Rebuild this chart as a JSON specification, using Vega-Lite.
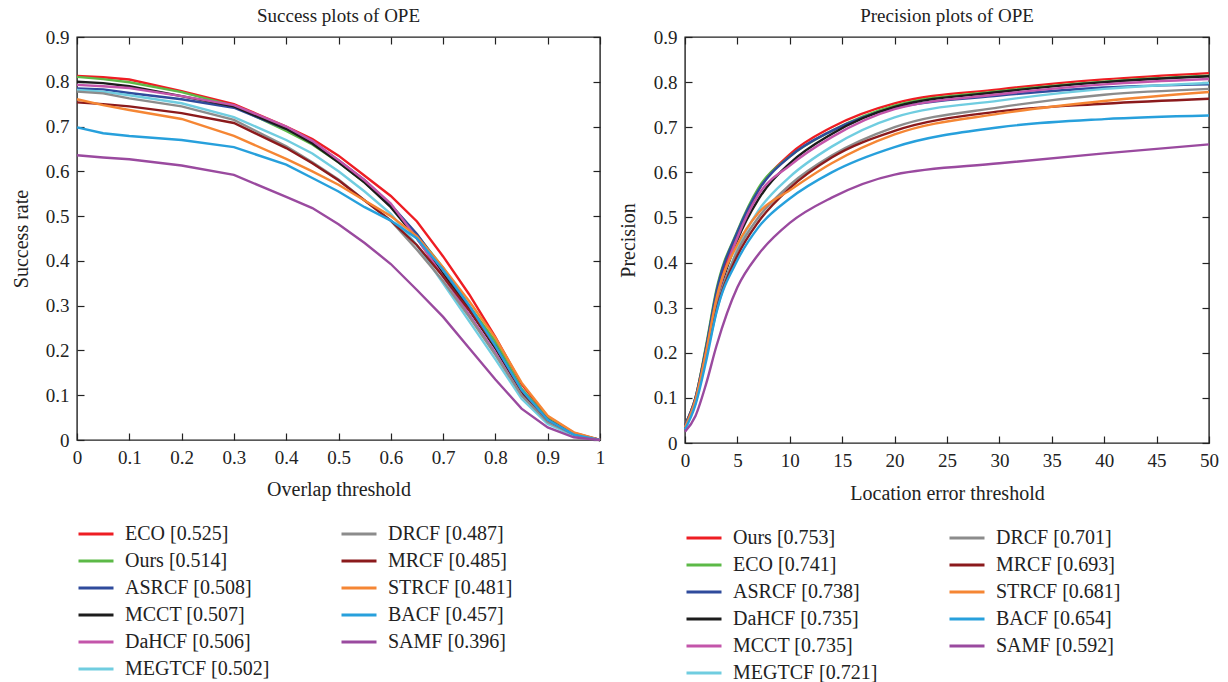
{
  "$schema": "https://vega.github.io/schema/vega-lite/v6.json",
  "padding": {"left": 10, "top": 6, "right": 10, "bottom": 0},
  "background": "white",
  "spacing": 11,
  "config": {
    "font": "Liberation Serif",
    "view": {"stroke": "#222", "strokeWidth": 1.4},
    "axis": {"grid": false, "domain": false, "tickSize": -7, "tickColor": "#222", "tickWidth": 1.2, "labelFontSize": 19, "titleFontSize": 20, "titleFontWeight": "normal", "labelColor": "#222", "titleColor": "#222", "labelFlush": false, "labelOverlap": false, "labelPadding": 15},
    "title": {"fontSize": 19, "fontWeight": "normal", "color": "#222", "frame": "group", "offset": 2},
    "legend": {"title": null, "orient": "none", "columns": 2, "symbolType": "stroke", "symbolSize": 1225, "symbolStrokeWidth": 3, "labelFontSize": 20, "labelColor": "#222", "labelOffset": 10, "rowPadding": 7, "columnPadding": 70, "clipHeight": 20, "labelLimit": 300}
  },
  "resolve": {"scale": {"color": "independent"}, "legend": {"color": "independent"}},
  "hconcat": [
    {
      "title": "Success plots of OPE",
      "width": 523,
      "height": 403,
      "data": {"values": [
        {"m":"ECO [0.525]","t":0,"v":0.813},{"m":"ECO [0.525]","t":0.05,"v":0.810},{"m":"ECO [0.525]","t":0.1,"v":0.805},{"m":"ECO [0.525]","t":0.2,"v":0.779},{"m":"ECO [0.525]","t":0.3,"v":0.750},{"m":"ECO [0.525]","t":0.4,"v":0.700},{"m":"ECO [0.525]","t":0.45,"v":0.672},{"m":"ECO [0.525]","t":0.5,"v":0.635},{"m":"ECO [0.525]","t":0.55,"v":0.590},{"m":"ECO [0.525]","t":0.6,"v":0.545},{"m":"ECO [0.525]","t":0.65,"v":0.488},{"m":"ECO [0.525]","t":0.7,"v":0.410},{"m":"ECO [0.525]","t":0.75,"v":0.325},{"m":"ECO [0.525]","t":0.8,"v":0.230},{"m":"ECO [0.525]","t":0.85,"v":0.125},{"m":"ECO [0.525]","t":0.9,"v":0.052},{"m":"ECO [0.525]","t":0.95,"v":0.016},{"m":"ECO [0.525]","t":1,"v":0},
        {"m":"Ours [0.514]","t":0,"v":0.811},{"m":"Ours [0.514]","t":0.05,"v":0.806},{"m":"Ours [0.514]","t":0.1,"v":0.799},{"m":"Ours [0.514]","t":0.2,"v":0.777},{"m":"Ours [0.514]","t":0.3,"v":0.746},{"m":"Ours [0.514]","t":0.4,"v":0.690},{"m":"Ours [0.514]","t":0.45,"v":0.660},{"m":"Ours [0.514]","t":0.5,"v":0.620},{"m":"Ours [0.514]","t":0.55,"v":0.575},{"m":"Ours [0.514]","t":0.6,"v":0.525},{"m":"Ours [0.514]","t":0.65,"v":0.458},{"m":"Ours [0.514]","t":0.7,"v":0.385},{"m":"Ours [0.514]","t":0.75,"v":0.300},{"m":"Ours [0.514]","t":0.8,"v":0.220},{"m":"Ours [0.514]","t":0.85,"v":0.115},{"m":"Ours [0.514]","t":0.9,"v":0.048},{"m":"Ours [0.514]","t":0.95,"v":0.014},{"m":"Ours [0.514]","t":1,"v":0},
        {"m":"ASRCF [0.508]","t":0,"v":0.785},{"m":"ASRCF [0.508]","t":0.05,"v":0.783},{"m":"ASRCF [0.508]","t":0.1,"v":0.775},{"m":"ASRCF [0.508]","t":0.2,"v":0.761},{"m":"ASRCF [0.508]","t":0.3,"v":0.742},{"m":"ASRCF [0.508]","t":0.4,"v":0.695},{"m":"ASRCF [0.508]","t":0.45,"v":0.665},{"m":"ASRCF [0.508]","t":0.5,"v":0.625},{"m":"ASRCF [0.508]","t":0.55,"v":0.580},{"m":"ASRCF [0.508]","t":0.6,"v":0.525},{"m":"ASRCF [0.508]","t":0.65,"v":0.460},{"m":"ASRCF [0.508]","t":0.7,"v":0.380},{"m":"ASRCF [0.508]","t":0.75,"v":0.295},{"m":"ASRCF [0.508]","t":0.8,"v":0.210},{"m":"ASRCF [0.508]","t":0.85,"v":0.110},{"m":"ASRCF [0.508]","t":0.9,"v":0.045},{"m":"ASRCF [0.508]","t":0.95,"v":0.013},{"m":"ASRCF [0.508]","t":1,"v":0},
        {"m":"MCCT [0.507]","t":0,"v":0.800},{"m":"MCCT [0.507]","t":0.05,"v":0.797},{"m":"MCCT [0.507]","t":0.1,"v":0.790},{"m":"MCCT [0.507]","t":0.2,"v":0.768},{"m":"MCCT [0.507]","t":0.3,"v":0.745},{"m":"MCCT [0.507]","t":0.4,"v":0.695},{"m":"MCCT [0.507]","t":0.45,"v":0.662},{"m":"MCCT [0.507]","t":0.5,"v":0.620},{"m":"MCCT [0.507]","t":0.55,"v":0.575},{"m":"MCCT [0.507]","t":0.6,"v":0.520},{"m":"MCCT [0.507]","t":0.65,"v":0.450},{"m":"MCCT [0.507]","t":0.7,"v":0.370},{"m":"MCCT [0.507]","t":0.75,"v":0.290},{"m":"MCCT [0.507]","t":0.8,"v":0.205},{"m":"MCCT [0.507]","t":0.85,"v":0.105},{"m":"MCCT [0.507]","t":0.9,"v":0.043},{"m":"MCCT [0.507]","t":0.95,"v":0.012},{"m":"MCCT [0.507]","t":1,"v":0},
        {"m":"DaHCF [0.506]","t":0,"v":0.793},{"m":"DaHCF [0.506]","t":0.05,"v":0.790},{"m":"DaHCF [0.506]","t":0.1,"v":0.786},{"m":"DaHCF [0.506]","t":0.2,"v":0.768},{"m":"DaHCF [0.506]","t":0.3,"v":0.748},{"m":"DaHCF [0.506]","t":0.4,"v":0.700},{"m":"DaHCF [0.506]","t":0.45,"v":0.668},{"m":"DaHCF [0.506]","t":0.5,"v":0.625},{"m":"DaHCF [0.506]","t":0.55,"v":0.580},{"m":"DaHCF [0.506]","t":0.6,"v":0.528},{"m":"DaHCF [0.506]","t":0.65,"v":0.450},{"m":"DaHCF [0.506]","t":0.7,"v":0.365},{"m":"DaHCF [0.506]","t":0.75,"v":0.280},{"m":"DaHCF [0.506]","t":0.8,"v":0.195},{"m":"DaHCF [0.506]","t":0.85,"v":0.100},{"m":"DaHCF [0.506]","t":0.9,"v":0.040},{"m":"DaHCF [0.506]","t":0.95,"v":0.010},{"m":"DaHCF [0.506]","t":1,"v":0},
        {"m":"MEGTCF [0.502]","t":0,"v":0.782},{"m":"MEGTCF [0.502]","t":0.05,"v":0.778},{"m":"MEGTCF [0.502]","t":0.1,"v":0.770},{"m":"MEGTCF [0.502]","t":0.2,"v":0.752},{"m":"MEGTCF [0.502]","t":0.3,"v":0.721},{"m":"MEGTCF [0.502]","t":0.4,"v":0.670},{"m":"MEGTCF [0.502]","t":0.45,"v":0.640},{"m":"MEGTCF [0.502]","t":0.5,"v":0.600},{"m":"MEGTCF [0.502]","t":0.55,"v":0.555},{"m":"MEGTCF [0.502]","t":0.6,"v":0.505},{"m":"MEGTCF [0.502]","t":0.65,"v":0.435},{"m":"MEGTCF [0.502]","t":0.7,"v":0.350},{"m":"MEGTCF [0.502]","t":0.75,"v":0.265},{"m":"MEGTCF [0.502]","t":0.8,"v":0.180},{"m":"MEGTCF [0.502]","t":0.85,"v":0.092},{"m":"MEGTCF [0.502]","t":0.9,"v":0.036},{"m":"MEGTCF [0.502]","t":0.95,"v":0.010},{"m":"MEGTCF [0.502]","t":1,"v":0},
        {"m":"DRCF [0.487]","t":0,"v":0.778},{"m":"DRCF [0.487]","t":0.05,"v":0.774},{"m":"DRCF [0.487]","t":0.1,"v":0.763},{"m":"DRCF [0.487]","t":0.2,"v":0.745},{"m":"DRCF [0.487]","t":0.3,"v":0.715},{"m":"DRCF [0.487]","t":0.4,"v":0.656},{"m":"DRCF [0.487]","t":0.45,"v":0.620},{"m":"DRCF [0.487]","t":0.5,"v":0.582},{"m":"DRCF [0.487]","t":0.55,"v":0.535},{"m":"DRCF [0.487]","t":0.6,"v":0.490},{"m":"DRCF [0.487]","t":0.65,"v":0.425},{"m":"DRCF [0.487]","t":0.7,"v":0.355},{"m":"DRCF [0.487]","t":0.75,"v":0.275},{"m":"DRCF [0.487]","t":0.8,"v":0.190},{"m":"DRCF [0.487]","t":0.85,"v":0.100},{"m":"DRCF [0.487]","t":0.9,"v":0.040},{"m":"DRCF [0.487]","t":0.95,"v":0.012},{"m":"DRCF [0.487]","t":1,"v":0},
        {"m":"MRCF [0.485]","t":0,"v":0.754},{"m":"MRCF [0.485]","t":0.05,"v":0.750},{"m":"MRCF [0.485]","t":0.1,"v":0.745},{"m":"MRCF [0.485]","t":0.2,"v":0.730},{"m":"MRCF [0.485]","t":0.3,"v":0.708},{"m":"MRCF [0.485]","t":0.4,"v":0.652},{"m":"MRCF [0.485]","t":0.45,"v":0.618},{"m":"MRCF [0.485]","t":0.5,"v":0.580},{"m":"MRCF [0.485]","t":0.55,"v":0.535},{"m":"MRCF [0.485]","t":0.6,"v":0.490},{"m":"MRCF [0.485]","t":0.65,"v":0.435},{"m":"MRCF [0.485]","t":0.7,"v":0.365},{"m":"MRCF [0.485]","t":0.75,"v":0.290},{"m":"MRCF [0.485]","t":0.8,"v":0.210},{"m":"MRCF [0.485]","t":0.85,"v":0.110},{"m":"MRCF [0.485]","t":0.9,"v":0.045},{"m":"MRCF [0.485]","t":0.95,"v":0.013},{"m":"MRCF [0.485]","t":1,"v":0},
        {"m":"STRCF [0.481]","t":0,"v":0.761},{"m":"STRCF [0.481]","t":0.05,"v":0.748},{"m":"STRCF [0.481]","t":0.1,"v":0.737},{"m":"STRCF [0.481]","t":0.2,"v":0.717},{"m":"STRCF [0.481]","t":0.3,"v":0.679},{"m":"STRCF [0.481]","t":0.4,"v":0.628},{"m":"STRCF [0.481]","t":0.45,"v":0.600},{"m":"STRCF [0.481]","t":0.5,"v":0.570},{"m":"STRCF [0.481]","t":0.55,"v":0.535},{"m":"STRCF [0.481]","t":0.6,"v":0.500},{"m":"STRCF [0.481]","t":0.65,"v":0.455},{"m":"STRCF [0.481]","t":0.7,"v":0.385},{"m":"STRCF [0.481]","t":0.75,"v":0.310},{"m":"STRCF [0.481]","t":0.8,"v":0.228},{"m":"STRCF [0.481]","t":0.85,"v":0.128},{"m":"STRCF [0.481]","t":0.9,"v":0.054},{"m":"STRCF [0.481]","t":0.95,"v":0.017},{"m":"STRCF [0.481]","t":1,"v":0},
        {"m":"BACF [0.457]","t":0,"v":0.698},{"m":"BACF [0.457]","t":0.05,"v":0.685},{"m":"BACF [0.457]","t":0.1,"v":0.679},{"m":"BACF [0.457]","t":0.2,"v":0.670},{"m":"BACF [0.457]","t":0.3,"v":0.654},{"m":"BACF [0.457]","t":0.4,"v":0.615},{"m":"BACF [0.457]","t":0.45,"v":0.585},{"m":"BACF [0.457]","t":0.5,"v":0.555},{"m":"BACF [0.457]","t":0.55,"v":0.520},{"m":"BACF [0.457]","t":0.6,"v":0.490},{"m":"BACF [0.457]","t":0.65,"v":0.450},{"m":"BACF [0.457]","t":0.7,"v":0.380},{"m":"BACF [0.457]","t":0.75,"v":0.300},{"m":"BACF [0.457]","t":0.8,"v":0.210},{"m":"BACF [0.457]","t":0.85,"v":0.112},{"m":"BACF [0.457]","t":0.9,"v":0.045},{"m":"BACF [0.457]","t":0.95,"v":0.012},{"m":"BACF [0.457]","t":1,"v":0},
        {"m":"SAMF [0.396]","t":0,"v":0.636},{"m":"SAMF [0.396]","t":0.05,"v":0.631},{"m":"SAMF [0.396]","t":0.1,"v":0.627},{"m":"SAMF [0.396]","t":0.2,"v":0.613},{"m":"SAMF [0.396]","t":0.3,"v":0.592},{"m":"SAMF [0.396]","t":0.4,"v":0.543},{"m":"SAMF [0.396]","t":0.45,"v":0.518},{"m":"SAMF [0.396]","t":0.5,"v":0.482},{"m":"SAMF [0.396]","t":0.55,"v":0.440},{"m":"SAMF [0.396]","t":0.6,"v":0.393},{"m":"SAMF [0.396]","t":0.65,"v":0.335},{"m":"SAMF [0.396]","t":0.7,"v":0.275},{"m":"SAMF [0.396]","t":0.75,"v":0.205},{"m":"SAMF [0.396]","t":0.8,"v":0.135},{"m":"SAMF [0.396]","t":0.85,"v":0.070},{"m":"SAMF [0.396]","t":0.9,"v":0.028},{"m":"SAMF [0.396]","t":0.95,"v":0.006},{"m":"SAMF [0.396]","t":1,"v":0}
      ]},
      "layer": [
        {
          "mark": {"type": "line", "strokeWidth": 2.4},
          "encoding": {
            "x": {"field": "t", "type": "quantitative", "scale": {"domain": [0, 1], "nice": false}, "axis": {"title": "Overlap threshold", "values": [0,0.1,0.2,0.3,0.4,0.5,0.6,0.7,0.8,0.9,1], "format": "~g", "titlePadding": 12}},
            "y": {"field": "v", "type": "quantitative", "scale": {"domain": [0, 0.9], "nice": false}, "axis": {"title": "Success rate", "values": [0,0.1,0.2,0.3,0.4,0.5,0.6,0.7,0.8,0.9], "format": "~g", "titlePadding": 14}},
            "color": {"field": "m", "type": "nominal",
              "scale": {"domain": ["ECO [0.525]","Ours [0.514]","ASRCF [0.508]","MCCT [0.507]","DaHCF [0.506]","MEGTCF [0.502]","DRCF [0.487]","MRCF [0.485]","STRCF [0.481]","BACF [0.457]","SAMF [0.396]"],
                        "range": ["#ee1d23","#5cb947","#2f4b9c","#1c1c1c","#c355aa","#70cde0","#8c8c8c","#8b1a1c","#f58634","#27a0dc","#9a4a9f"]},
              "legend": {"legendX": 0, "legendY": 487}}
          }
        },
        {
          "mark": {"type": "line", "opacity": 0},
          "encoding": {
            "x": {"field": "t", "type": "quantitative", "axis": {"orient": "top", "labels": false, "title": null, "values": [0,0.1,0.2,0.3,0.4,0.5,0.6,0.7,0.8,0.9,1]}},
            "y": {"field": "v", "type": "quantitative", "axis": {"orient": "right", "labels": false, "title": null, "values": [0,0.1,0.2,0.3,0.4,0.5,0.6,0.7,0.8,0.9]}}
          }
        }
      ],
      "resolve": {"axis": {"x": "independent", "y": "independent"}}
    },
    {
      "title": "Precision plots of OPE",
      "width": 524,
      "height": 406,
      "data": {"values": [
        {"m":"Ours [0.753]","t":0,"v":0.04},{"m":"Ours [0.753]","t":1,"v":0.10},{"m":"Ours [0.753]","t":2,"v":0.21},{"m":"Ours [0.753]","t":3,"v":0.33},{"m":"Ours [0.753]","t":5,"v":0.46},{"m":"Ours [0.753]","t":7,"v":0.56},{"m":"Ours [0.753]","t":10,"v":0.64},{"m":"Ours [0.753]","t":14,"v":0.70},{"m":"Ours [0.753]","t":20,"v":0.753},{"m":"Ours [0.753]","t":30,"v":0.784},{"m":"Ours [0.753]","t":40,"v":0.806},{"m":"Ours [0.753]","t":50,"v":0.82},
        {"m":"ECO [0.741]","t":0,"v":0.04},{"m":"ECO [0.741]","t":1,"v":0.10},{"m":"ECO [0.741]","t":2,"v":0.215},{"m":"ECO [0.741]","t":3,"v":0.34},{"m":"ECO [0.741]","t":5,"v":0.47},{"m":"ECO [0.741]","t":7,"v":0.565},{"m":"ECO [0.741]","t":10,"v":0.635},{"m":"ECO [0.741]","t":14,"v":0.692},{"m":"ECO [0.741]","t":20,"v":0.748},{"m":"ECO [0.741]","t":30,"v":0.78},{"m":"ECO [0.741]","t":40,"v":0.801},{"m":"ECO [0.741]","t":50,"v":0.814},
        {"m":"ASRCF [0.738]","t":0,"v":0.04},{"m":"ASRCF [0.738]","t":1,"v":0.10},{"m":"ASRCF [0.738]","t":2,"v":0.21},{"m":"ASRCF [0.738]","t":3,"v":0.335},{"m":"ASRCF [0.738]","t":5,"v":0.468},{"m":"ASRCF [0.738]","t":7,"v":0.56},{"m":"ASRCF [0.738]","t":10,"v":0.635},{"m":"ASRCF [0.738]","t":14,"v":0.692},{"m":"ASRCF [0.738]","t":20,"v":0.743},{"m":"ASRCF [0.738]","t":30,"v":0.77},{"m":"ASRCF [0.738]","t":40,"v":0.788},{"m":"ASRCF [0.738]","t":50,"v":0.795},
        {"m":"DaHCF [0.735]","t":0,"v":0.035},{"m":"DaHCF [0.735]","t":1,"v":0.095},{"m":"DaHCF [0.735]","t":2,"v":0.20},{"m":"DaHCF [0.735]","t":3,"v":0.31},{"m":"DaHCF [0.735]","t":5,"v":0.45},{"m":"DaHCF [0.735]","t":7,"v":0.54},{"m":"DaHCF [0.735]","t":10,"v":0.62},{"m":"DaHCF [0.735]","t":14,"v":0.685},{"m":"DaHCF [0.735]","t":20,"v":0.745},{"m":"DaHCF [0.735]","t":30,"v":0.778},{"m":"DaHCF [0.735]","t":40,"v":0.80},{"m":"DaHCF [0.735]","t":50,"v":0.813},
        {"m":"MCCT [0.735]","t":0,"v":0.035},{"m":"MCCT [0.735]","t":1,"v":0.095},{"m":"MCCT [0.735]","t":2,"v":0.20},{"m":"MCCT [0.735]","t":3,"v":0.315},{"m":"MCCT [0.735]","t":5,"v":0.455},{"m":"MCCT [0.735]","t":7,"v":0.55},{"m":"MCCT [0.735]","t":10,"v":0.615},{"m":"MCCT [0.735]","t":14,"v":0.678},{"m":"MCCT [0.735]","t":20,"v":0.74},{"m":"MCCT [0.735]","t":30,"v":0.773},{"m":"MCCT [0.735]","t":40,"v":0.795},{"m":"MCCT [0.735]","t":50,"v":0.807},
        {"m":"MEGTCF [0.721]","t":0,"v":0.035},{"m":"MEGTCF [0.721]","t":1,"v":0.09},{"m":"MEGTCF [0.721]","t":2,"v":0.19},{"m":"MEGTCF [0.721]","t":3,"v":0.29},{"m":"MEGTCF [0.721]","t":5,"v":0.43},{"m":"MEGTCF [0.721]","t":7,"v":0.515},{"m":"MEGTCF [0.721]","t":10,"v":0.59},{"m":"MEGTCF [0.721]","t":14,"v":0.657},{"m":"MEGTCF [0.721]","t":20,"v":0.722},{"m":"MEGTCF [0.721]","t":30,"v":0.759},{"m":"MEGTCF [0.721]","t":40,"v":0.785},{"m":"MEGTCF [0.721]","t":50,"v":0.798},
        {"m":"DRCF [0.701]","t":0,"v":0.035},{"m":"DRCF [0.701]","t":1,"v":0.09},{"m":"DRCF [0.701]","t":2,"v":0.195},{"m":"DRCF [0.701]","t":3,"v":0.30},{"m":"DRCF [0.701]","t":5,"v":0.425},{"m":"DRCF [0.701]","t":7,"v":0.50},{"m":"DRCF [0.701]","t":10,"v":0.572},{"m":"DRCF [0.701]","t":14,"v":0.637},{"m":"DRCF [0.701]","t":20,"v":0.70},{"m":"DRCF [0.701]","t":30,"v":0.744},{"m":"DRCF [0.701]","t":40,"v":0.772},{"m":"DRCF [0.701]","t":50,"v":0.785},
        {"m":"MRCF [0.693]","t":0,"v":0.035},{"m":"MRCF [0.693]","t":1,"v":0.09},{"m":"MRCF [0.693]","t":2,"v":0.19},{"m":"MRCF [0.693]","t":3,"v":0.295},{"m":"MRCF [0.693]","t":5,"v":0.415},{"m":"MRCF [0.693]","t":7,"v":0.49},{"m":"MRCF [0.693]","t":10,"v":0.565},{"m":"MRCF [0.693]","t":14,"v":0.633},{"m":"MRCF [0.693]","t":20,"v":0.692},{"m":"MRCF [0.693]","t":30,"v":0.735},{"m":"MRCF [0.693]","t":40,"v":0.752},{"m":"MRCF [0.693]","t":50,"v":0.763},
        {"m":"STRCF [0.681]","t":0,"v":0.035},{"m":"STRCF [0.681]","t":1,"v":0.095},{"m":"STRCF [0.681]","t":2,"v":0.20},{"m":"STRCF [0.681]","t":3,"v":0.32},{"m":"STRCF [0.681]","t":5,"v":0.44},{"m":"STRCF [0.681]","t":7,"v":0.51},{"m":"STRCF [0.681]","t":10,"v":0.56},{"m":"STRCF [0.681]","t":14,"v":0.62},{"m":"STRCF [0.681]","t":20,"v":0.684},{"m":"STRCF [0.681]","t":30,"v":0.73},{"m":"STRCF [0.681]","t":40,"v":0.758},{"m":"STRCF [0.681]","t":50,"v":0.778},
        {"m":"BACF [0.654]","t":0,"v":0.03},{"m":"BACF [0.654]","t":1,"v":0.085},{"m":"BACF [0.654]","t":2,"v":0.18},{"m":"BACF [0.654]","t":3,"v":0.29},{"m":"BACF [0.654]","t":5,"v":0.405},{"m":"BACF [0.654]","t":7,"v":0.478},{"m":"BACF [0.654]","t":10,"v":0.542},{"m":"BACF [0.654]","t":14,"v":0.60},{"m":"BACF [0.654]","t":20,"v":0.656},{"m":"BACF [0.654]","t":30,"v":0.70},{"m":"BACF [0.654]","t":40,"v":0.718},{"m":"BACF [0.654]","t":50,"v":0.726},
        {"m":"SAMF [0.592]","t":0,"v":0.025},{"m":"SAMF [0.592]","t":1,"v":0.06},{"m":"SAMF [0.592]","t":2,"v":0.13},{"m":"SAMF [0.592]","t":3,"v":0.215},{"m":"SAMF [0.592]","t":5,"v":0.345},{"m":"SAMF [0.592]","t":7,"v":0.418},{"m":"SAMF [0.592]","t":10,"v":0.488},{"m":"SAMF [0.592]","t":14,"v":0.544},{"m":"SAMF [0.592]","t":20,"v":0.595},{"m":"SAMF [0.592]","t":30,"v":0.62},{"m":"SAMF [0.592]","t":40,"v":0.642},{"m":"SAMF [0.592]","t":50,"v":0.662}
      ]},
      "layer": [
        {
          "mark": {"type": "line", "strokeWidth": 2.4, "interpolate": "monotone"},
          "encoding": {
            "x": {"field": "t", "type": "quantitative", "scale": {"domain": [0, 50], "nice": false}, "axis": {"title": "Location error threshold", "values": [0,5,10,15,20,25,30,35,40,45,50], "format": "~g", "titlePadding": 13}},
            "y": {"field": "v", "type": "quantitative", "scale": {"domain": [0, 0.9], "nice": false}, "axis": {"title": "Precision", "values": [0,0.1,0.2,0.3,0.4,0.5,0.6,0.7,0.8,0.9], "format": "~g", "titlePadding": 15}},
            "color": {"field": "m", "type": "nominal",
              "scale": {"domain": ["Ours [0.753]","ECO [0.741]","ASRCF [0.738]","DaHCF [0.735]","MCCT [0.735]","MEGTCF [0.721]","DRCF [0.701]","MRCF [0.693]","STRCF [0.681]","BACF [0.654]","SAMF [0.592]"],
                        "range": ["#ee1d23","#5cb947","#2f4b9c","#1c1c1c","#c355aa","#70cde0","#8c8c8c","#8b1a1c","#f58634","#27a0dc","#9a4a9f"]},
              "legend": {"legendX": 0, "legendY": 491}}
          }
        },
        {
          "mark": {"type": "line", "opacity": 0},
          "encoding": {
            "x": {"field": "t", "type": "quantitative", "axis": {"orient": "top", "labels": false, "title": null, "values": [0,5,10,15,20,25,30,35,40,45,50]}},
            "y": {"field": "v", "type": "quantitative", "axis": {"orient": "right", "labels": false, "title": null, "values": [0,0.1,0.2,0.3,0.4,0.5,0.6,0.7,0.8,0.9]}}
          }
        }
      ],
      "resolve": {"axis": {"x": "independent", "y": "independent"}}
    }
  ]
}
